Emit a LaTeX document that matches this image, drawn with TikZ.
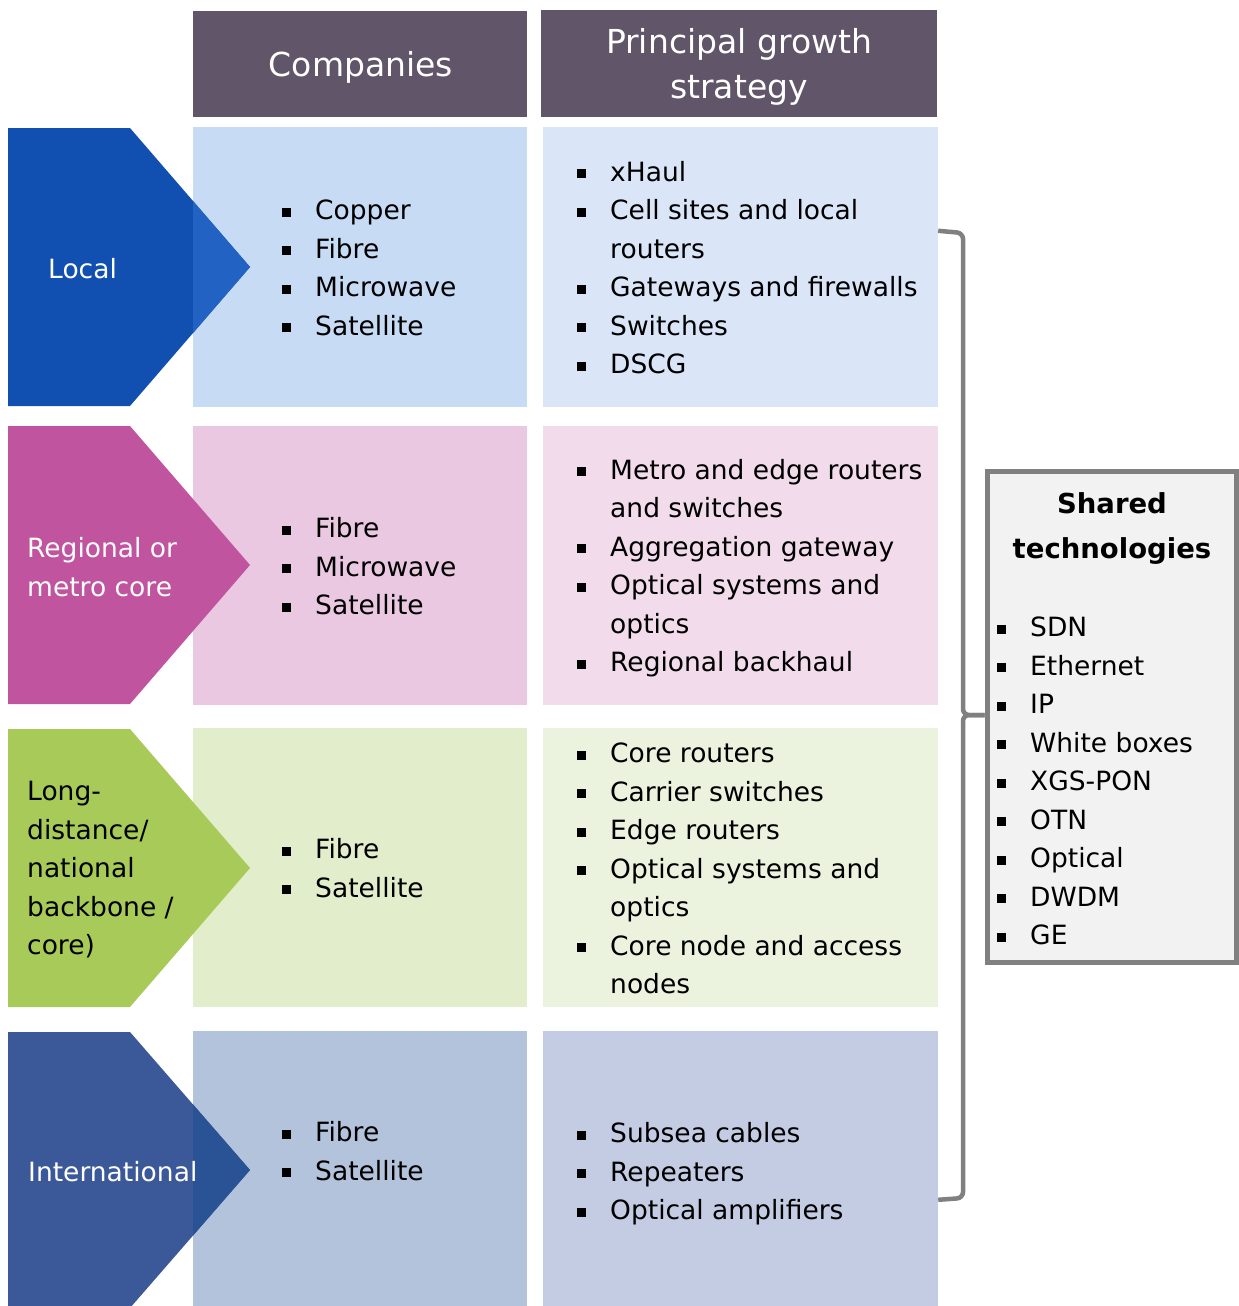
\documentclass[tikz,border=0pt]{standalone}
\usepackage{fontspec}
\setmainfont{DejaVu Sans}
\definecolor{hdr}{HTML}{615569}
\definecolor{chA}{HTML}{1150B0}\definecolor{ovA}{HTML}{2262C2}
\definecolor{coA}{HTML}{C7DBF5}\definecolor{stA}{HTML}{DAE6F8}
\definecolor{chB}{HTML}{C0549E}
\definecolor{coB}{HTML}{EAC8E2}\definecolor{stB}{HTML}{F2DCEC}
\definecolor{chC}{HTML}{A8CA58}
\definecolor{coC}{HTML}{E2EDCB}\definecolor{stC}{HTML}{EBF2DD}
\definecolor{chD}{HTML}{3B5998}\definecolor{ovD}{HTML}{2A5396}
\definecolor{coD}{HTML}{B3C3DB}\definecolor{stD}{HTML}{C3CCE3}
\definecolor{brkgray}{HTML}{808080}
\definecolor{shfill}{HTML}{F2F2F2}
\newcommand{\bul}{\makebox[33pt][l]{\raisebox{3pt}{\rule{9pt}{9pt}}}}
\newcommand{\cont}{\hspace*{33pt}}
\tikzset{
  cell/.style={rectangle, draw=none, inner sep=0pt},
  hdrbox/.style={cell, fill=hdr, text=white, align=center,
    font=\fontsize{33}{45}\selectfont},
  lst/.style={anchor=west, inner sep=0pt, align=left,
    font=\fontsize{26.5}{38.5}\selectfont},
  lbl/.style={anchor=west, inner sep=0pt, align=left,
    font=\fontsize{26.5}{38.5}\selectfont},
  brk/.style={draw=brkgray, line width=4.5pt, rounded corners=6pt},
}
\begin{document}
\begin{tikzpicture}[x=1pt,y=-1pt]
\useasboundingbox (0,0) rectangle (1239,1306);
\begin{scope}
\clip (0,0) rectangle (1239,1306);
% headers
\node[hdrbox, minimum width=334pt, minimum height=106pt] (hco) at (360,64) {};
\node[hdrbox, minimum width=396pt, minimum height=107pt] (hst) at (739,63.5) {};
\node[text=white, inner sep=0pt, font=\fontsize{33}{45}\selectfont] (hcot) at (361,67) {Companies};
\node[text=white, inner sep=0pt, align=center, font=\fontsize{33}{45}\selectfont] (hstt) at (739,67) {Principal growth\\strategy};
% boxes
\node[cell, fill=coA, minimum width=334pt, minimum height=280pt] (c1) at (360,267) {};
\node[cell, fill=stA, minimum width=395pt, minimum height=280pt] (s1) at (740.5,267) {};
\node[cell, fill=coB, minimum width=334pt, minimum height=279pt] (c2) at (360,565.5) {};
\node[cell, fill=stB, minimum width=395pt, minimum height=279pt] (s2) at (740.5,565.5) {};
\node[cell, fill=coC, minimum width=334pt, minimum height=279pt] (c3) at (360,867.5) {};
\node[cell, fill=stC, minimum width=395pt, minimum height=279pt] (s3) at (740.5,867.5) {};
\node[cell, fill=coD, minimum width=334pt, minimum height=276pt] (c4) at (360,1169) {};
\node[cell, fill=stD, minimum width=395pt, minimum height=276pt] (s4) at (740.5,1169) {};
% chevrons
\fill[chA] (8,128) -- (130,128) -- (250,267) -- (130,406) -- (8,406) -- cycle;
\begin{scope}\clip (193,127) rectangle (527,407);
\fill[ovA] (8,128) -- (130,128) -- (250,267) -- (130,406) -- (8,406) -- cycle;
\end{scope}
\fill[chB] (8,426) -- (130,426) -- (250,565) -- (130,704) -- (8,704) -- cycle;
\fill[chC] (8,729) -- (130,729) -- (250,868) -- (130,1007) -- (8,1007) -- cycle;
\fill[chD] (8,1032) -- (130,1032) -- (250,1170) -- (130,1308) -- (8,1308) -- cycle;
\begin{scope}\clip (193,1031) rectangle (527,1306);
\fill[ovD] (8,1032) -- (130,1032) -- (250,1170) -- (130,1308) -- (8,1308) -- cycle;
\end{scope}
\end{scope}
% chevron labels
\node[lbl, text=white] (l1) at (48,269) {Local};
\node[lbl, text=white] (l2) at (27,567) {Regional or\\metro core};
\node[lbl, text=black] (l3) at (27,870) {Long-\\distance/\\national\\backbone /\\core)};
\node[lbl, text=white] (l4) at (28,1172) {International};
% company lists
\node[lst] (cl1) at (282,268) {\bul Copper\\\bul Fibre\\\bul Microwave\\\bul Satellite};
\node[lst] (cl2) at (282,566.5) {\bul Fibre\\\bul Microwave\\\bul Satellite};
\node[lst] (cl3) at (282,868) {\bul Fibre\\\bul Satellite};
\node[lst] (cl4) at (282,1151) {\bul Fibre\\\bul Satellite};
% strategy lists
\node[lst] (sl1) at (577,267.5) {\bul xHaul\\\bul Cell sites and local\\\cont routers\\\bul Gateways and firewalls\\\bul Switches\\\bul DSCG};
\node[lst] (sl2) at (577,568) {\bul Metro and edge routers\\\cont and switches\\\bul Aggregation gateway\\\bul Optical systems and\\\cont optics\\\bul Regional backhaul};
\node[lst] (sl3) at (577,868.5) {\bul Core routers\\\bul Carrier switches\\\bul Edge routers\\\bul Optical systems and\\\cont optics\\\bul Core node and access\\\cont nodes};
\node[lst] (sl4) at (577,1174) {\bul Subsea cables\\\bul Repeaters\\\bul Optical amplifiers};
% shared technologies box
\node[cell, draw=brkgray, line width=5pt, fill=shfill, minimum width=249pt, minimum height=491pt] (sh) at (1111.5,716.5) {};
\node[inner sep=0pt, align=center, font=\bfseries\fontsize{27.5}{45}\selectfont] (sht) at (1112,529) {Shared\\technologies};
\node[lst] (shl) at (997,781) {\bul SDN\\\bul Ethernet\\\bul IP\\\bul White boxes\\\bul XGS-PON\\\bul OTN\\\bul Optical\\\bul DWDM\\\bul GE};
% bracket
\coordinate (tip) at (sh.west |- 0,715);
\draw[brk] ([yshift=-104pt]s1.north east) -- (963,233) -- (963,715) -- (tip);
\draw[brk] (tip) -- (963,715) -- (963,1198) -- ([yshift=-169pt]s4.north east);
\end{tikzpicture}
\end{document}
